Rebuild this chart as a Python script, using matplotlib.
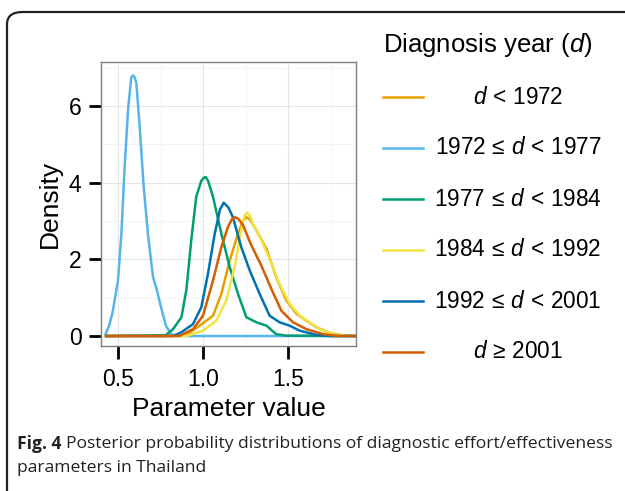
import matplotlib
matplotlib.use('Agg')
import matplotlib.pyplot as plt
from matplotlib.lines import Line2D
from matplotlib.patches import FancyBboxPatch

plt.rcParams['font.family'] = ['Liberation Sans', 'DejaVu Sans']
plt.rcParams['mathtext.fontset'] = 'custom'
plt.rcParams['mathtext.rm'] = 'Liberation Sans'
plt.rcParams['mathtext.it'] = 'Liberation Sans:italic'

# posterior density curves
labels = [r'$d\,<\,1972$', r'$1972\,\leq\,d\,<\,1977$', r'$1977\,\leq\,d\,<\,1984$',
          r'$1984\,\leq\,d\,<\,1992$', r'$1992\,\leq\,d\,<\,2001$', r'$d\,\geq\,2001$']
colors = ['#E69F00', '#56B4E9', '#009E73', '#F0E442', '#0072B2', '#D55E00']

x_pre72 = [0.43, 0.90, 0.98, 1.059, 1.108, 1.157, 1.206, 1.235, 1.255, 1.275, 1.314, 1.373,
           1.43, 1.49, 1.55, 1.608, 1.667, 1.745, 1.82, 1.9]
y_pre72 = [0.0, 0.02, 0.27, 0.53, 1.1, 1.97, 2.67, 3.0, 3.1, 3.05, 2.76, 2.28,
           1.54, 0.93, 0.58, 0.4, 0.23, 0.08, 0.02, 0.0]

x_72_77 = [0.427, 0.45, 0.47, 0.50, 0.52, 0.539, 0.559, 0.578, 0.588, 0.598, 0.608, 0.627,
           0.651, 0.676, 0.706, 0.729, 0.753, 0.782, 0.812, 0.85, 1.9]
y_72_77 = [0.05, 0.3, 0.66, 1.45, 2.67, 4.4, 5.9, 6.75, 6.8, 6.75, 6.6, 5.5,
           3.9, 2.67, 1.54, 1.19, 0.75, 0.27, 0.05, 0.0, 0.0]

x_77_84 = [0.43, 0.78, 0.824, 0.873, 0.902, 0.931, 0.96, 0.99, 1.005, 1.016, 1.03, 1.059, 1.108,
           1.157, 1.206, 1.255, 1.314, 1.373, 1.43, 1.49, 1.9]
y_77_84 = [0.0, 0.02, 0.18, 0.49, 1.2, 2.5, 3.63, 4.05, 4.13, 4.15, 4.05, 3.63, 2.67,
           1.8, 1.1, 0.49, 0.36, 0.27, 0.05, 0.01, 0.0]

x_84_92 = [0.43, 0.902, 1.0, 1.078, 1.137, 1.186, 1.225, 1.245, 1.26, 1.275, 1.294, 1.353, 1.402,
           1.45, 1.51, 1.569, 1.627, 1.686, 1.765, 1.85, 1.9]
y_84_92 = [0.0, 0.0, 0.14, 0.4, 0.93, 1.8, 2.76, 3.15, 3.22, 3.15, 2.93, 2.41, 1.89,
           1.36, 0.84, 0.53, 0.36, 0.18, 0.05, 0.0, 0.0]

x_92_01 = [0.43, 0.824, 0.873, 0.941, 0.99, 1.029, 1.069, 1.10, 1.122, 1.15, 1.176, 1.225,
           1.275, 1.333, 1.392, 1.45, 1.51, 1.569, 1.667, 1.75, 1.9]
y_92_01 = [0.0, 0.0, 0.1, 0.31, 0.75, 1.62, 2.67, 3.3, 3.48, 3.35, 3.1, 2.32,
           1.71, 1.1, 0.53, 0.36, 0.27, 0.14, 0.03, 0.0, 0.0]

x_post01 = [0.43, 0.86, 0.941, 1.0, 1.059, 1.108, 1.147, 1.17, 1.19, 1.21, 1.235, 1.284, 1.343,
            1.402, 1.461, 1.529, 1.608, 1.706, 1.8, 1.9]
y_post01 = [0.0, 0.0, 0.18, 0.53, 1.45, 2.32, 2.85, 3.05, 3.1, 3.05, 2.9, 2.37, 1.84,
            1.23, 0.66, 0.36, 0.18, 0.05, 0.0, 0.0]

xs = [x_pre72, x_72_77, x_77_84, x_84_92, x_92_01, x_post01]
ys = [y_pre72, y_72_77, y_77_84, y_84_92, y_92_01, y_post01]

W, H = 625, 491
fig = plt.figure(figsize=(W / 100, H / 100), dpi=100)

# journal frame around figure + caption
frame = FancyBboxPatch((7 / W, -20 / H), 660 / W, (491 - 12 + 20) / H,
                       boxstyle='round,pad=0,rounding_size=0.025',
                       transform=fig.transFigure, fill=False,
                       edgecolor='#222222', linewidth=1.6, zorder=0)
fig.patches.append(frame)

ax = fig.add_axes([101 / W, (H - 346) / H, 255 / W, 284 / H])
for x, y, c in zip(xs, ys, colors):
    ax.plot(x, y, color=c, linewidth=1.8, solid_joinstyle='round')

ax.set_xlim(0.4, 1.9)
ax.set_ylim(-0.26, 7.15)
ax.set_xticks([0.5, 1.0, 1.5])
ax.set_xticks([0.75, 1.25, 1.75], minor=True)
ax.set_yticks([0, 2, 4, 6])
ax.set_yticks([1, 3, 5, 7], minor=True)
ax.grid(which='major', color='#e5e5e5', linewidth=0.8)
ax.grid(which='minor', color='#f2f2f2', linewidth=0.6)
ax.set_axisbelow(True)
for s in ax.spines.values():
    s.set_color('#7f7f7f')
    s.set_linewidth(1.0)
ax.tick_params(which='major', length=9, width=2, color='black',
               labelsize=16.5)
ax.tick_params(axis='y', pad=5)
ax.tick_params(axis='x', pad=7)
ax.tick_params(which='minor', length=0)
ax.set_xlabel('Parameter value', fontsize=19, labelpad=4)
ax.set_ylabel('Density', fontsize=19, labelpad=5)

# legend
fig.text(383 / W, 1 - 45 / H, r'Diagnosis year ($d$)', fontsize=18.5,
         ha='left', va='center')
for i, (lab, c) in enumerate(zip(labels, colors)):
    yy = 1 - (97 + 51 * i) / H
    fig.add_artist(Line2D([383 / W, 423 / W], [yy, yy], color=c, linewidth=1.8,
                          transform=fig.transFigure))
    fig.text(518 / W, yy, lab, fontsize=16.3, ha='center', va='center')

# caption
cap_kw = dict(fontsize=12.6, family='Open Sans', ha='left', va='center',
              color='#222222')
t = fig.text(17 / W, 1 - 444 / H, 'Fig. 4', fontweight='bold', **cap_kw)
fig.canvas.draw()
bb = t.get_window_extent()
fig.text((bb.x1 + 5) / W, 1 - 444 / H,
         'Posterior probability distributions of diagnostic effort/effectiveness',
         **cap_kw)
fig.text(17 / W, 1 - 468 / H, 'parameters in Thailand', **cap_kw)

fig.savefig('out.png', dpi=100)
